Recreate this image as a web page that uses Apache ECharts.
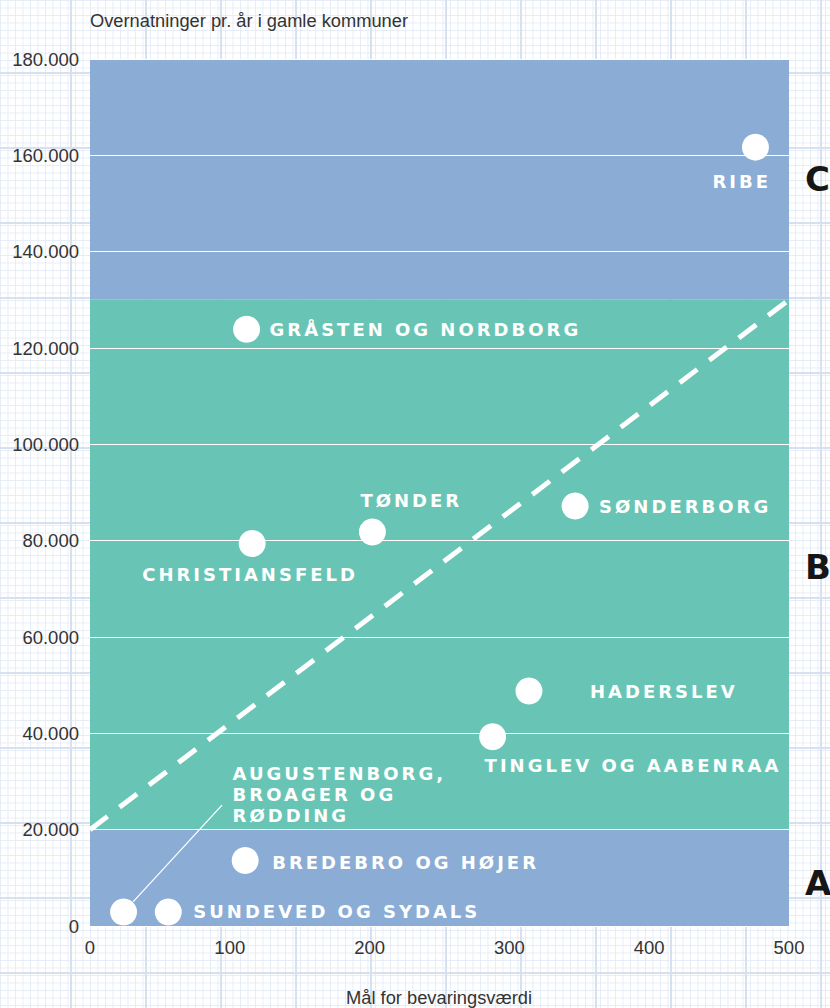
<!DOCTYPE html>
<html><head><meta charset="utf-8">
<script src="https://cdn.jsdelivr.net/npm/echarts@6/dist/echarts.min.js"></script>
<style>
html,body{margin:0;padding:0;}
body{
  width:830px;height:1008px;overflow:hidden;background-color:#fff;
  background-image:
    linear-gradient(to right, #d6e0ef 2px, transparent 2px),
    linear-gradient(to bottom, #d6e0ef 2px, transparent 2px),
    linear-gradient(to right, #e6ecf6 1px, transparent 1px),
    linear-gradient(to bottom, #e6ecf6 1px, transparent 1px);
  background-size:75px 75px,75px 75px,7.5px 7.5px,7.5px 7.5px;
  background-position:70px 72px,70px 72px,0 0,0 0;
}
#c{width:830px;height:1008px;}
text[fill="#fffffe"]{letter-spacing:3px;}
</style></head>
<body><div id="c"></div>
<script>
// ---- data ----
const names = ['RIBE','GRÅSTEN OG NORDBORG','TØNDER','CHRISTIANSFELD','SØNDERBORG','HADERSLEV','TINGLEV OG AABENRAA','BREDEBRO OG HØJER','AUGUSTENBORG,\nBROAGER OG\nRØDDING','SUNDEVED OG SYDALS'];
const bevaringsvaerdi = [476, 112, 202, 116, 347, 314, 288, 111, 24, 56];
const overnatninger = [161700, 123900, 81800, 79400, 87200, 48800, 39300, 13600, 2900, 2900];
const xTicks = [0, 100, 200, 300, 400, 500];
const yTicks = [0, 20000, 40000, 60000, 80000, 100000, 120000, 140000, 160000, 180000];
const bandEdges = [0, 20000, 130000, 180000];
const thresholdLine = [[0, 20000], [500, 130000]];
const leaderLine = [[30.8, 5000], [94.4, 25100]];
const zoneLetters = ['C', 'B', 'A'];
const zoneLetterY = [155000, 74500, 9000];
const yTitle = 'Overnatninger pr. år i gamle kommuner';
const xTitle = 'Mål for bevaringsværdi';

// label placement (style)
const labelOffsets = [[-43,34,'left'],[23,0,'left'],[-12,-31,'left'],[-110,31,'left'],[24,1,'left'],[61,1,'left'],[-8,29,'left'],[27,2,'left'],[109,-118,'left'],[25,-1,'left']];

const BLUE = '#8aacd5', TEAL = '#68c5b5';
const fmt = v => v === 0 ? '0' : String(v).replace(/\B(?=(\d{3})+(?!\d))/g, '.');

const chart = echarts.init(document.getElementById('c'), null, {renderer:'svg'});
const pts = names.map((n, i) => ({
  value: [bevaringsvaerdi[i], overnatninger[i]],
  label: {offset: [labelOffsets[i][0], labelOffsets[i][1]], align: labelOffsets[i][2]}
}));
const bandColors = [BLUE, TEAL, BLUE];
const bands = bandColors.map((c, i) => [{yAxis: bandEdges[i], itemStyle: {color: c}}, {yAxis: bandEdges[i + 1]}]);

const option = {
  animation: false,
  backgroundColor: 'transparent',
  grid: {left: 90, right: 41, top: 59, bottom: 82},
  xAxis: {
    type: 'value', min: xTicks[0], max: xTicks[xTicks.length - 1], interval: 100,
    axisLine: {show: false}, axisTick: {show: false}, splitLine: {show: false},
    axisLabel: {color: '#333', fontFamily: 'Liberation Sans', fontSize: 18.5, margin: 12}
  },
  yAxis: {
    type: 'value', min: yTicks[0], max: yTicks[yTicks.length - 1], interval: 20000, z: 3,
    axisLine: {show: false}, axisTick: {show: false},
    splitLine: {show: true, lineStyle: {color: '#ffffff', width: 1.2}},
    axisLabel: {color: '#333', fontFamily: 'Liberation Sans', fontSize: 18.5, margin: 11, formatter: fmt}
  },
  series: [
    {
      type: 'line', data: thresholdLine, symbol: 'none', silent: true, z: 4,
      lineStyle: {color: '#ffffff', width: 5, type: [22, 15], cap: 'butt'},
      markArea: {silent: true, data: bands}
    },
    {
      type: 'line', data: leaderLine, symbol: 'none', silent: true, z: 4,
      lineStyle: {color: '#ffffff', width: 1.3}
    },
    {
      type: 'scatter', data: pts, symbolSize: 27, z: 5,
      itemStyle: {color: '#ffffff', opacity: 1},
      label: {
        show: true, position: 'inside', verticalAlign: 'middle',
        formatter: p => names[p.dataIndex],
        color: '#fffffe', fontFamily: 'DejaVu Sans', fontWeight: 'bold', fontSize: 18, lineHeight: 21
      }
    }
  ]
};
chart.setOption(option);

const letterGraphics = zoneLetters.map((l, i) => ({
  type: 'text', x: 805, y: chart.convertToPixel({yAxisIndex: 0}, zoneLetterY[i]),
  style: {text: l, fill: '#161616', font: '900 34px "DejaVu Sans"', textVerticalAlign: 'middle', textAlign: 'left'}
}));
chart.setOption({
  graphic: [
    {type: 'text', x: 90, y: 20, style: {text: yTitle, fill: '#333', font: '18.3px "Liberation Sans"', textVerticalAlign: 'middle'}},
    {type: 'text', x: 532, y: 997, style: {text: xTitle, fill: '#333', font: '18.3px "Liberation Sans"', textVerticalAlign: 'middle', textAlign: 'right'}},
    ...letterGraphics
  ]
});
</script></body></html>
